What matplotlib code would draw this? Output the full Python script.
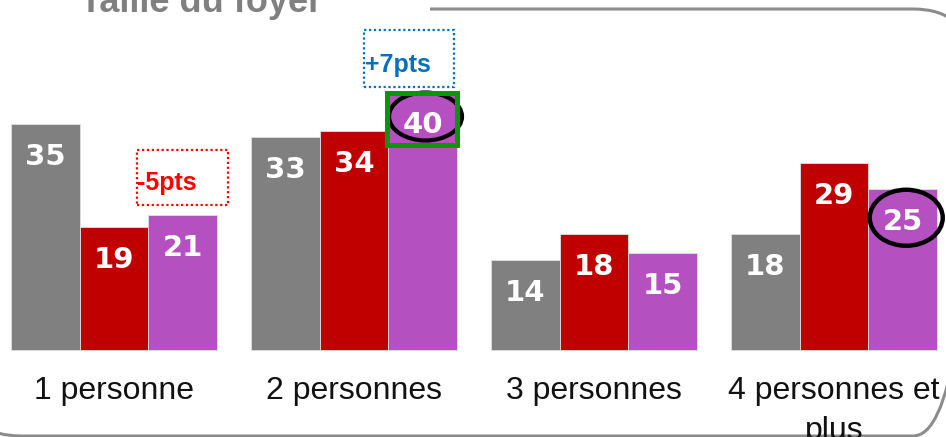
import numpy as np
import matplotlib.pyplot as plt
from matplotlib.patches import FancyBboxPatch, Rectangle, Ellipse

categories = ['1 personne', '2 personnes', '3 personnes', '4 personnes et\nplus']
serie_1 = [35, 33, 14, 18]
serie_2 = [19, 34, 18, 29]
serie_3 = [21, 40, 15, 25]
colors = ['#808080', '#C00000', '#B450C0']

W, H = 946, 437
fig = plt.figure(figsize=(W / 100, H / 100), dpi=100)

# cadre arrondi + titre, en coordonnees pixels
bg = fig.add_axes([0, 0, 1, 1], zorder=0)
bg.set_xlim(0, W)
bg.set_ylim(H, 0)
bg.axis('off')
bg.add_patch(FancyBboxPatch((-36, 9), 1006, 427,
                            boxstyle='round,pad=0,rounding_size=57',
                            fill=False, ec='#8c8c8c', lw=2.2))
bg.add_patch(Rectangle((-10, -10), 440, 40, fc='white', ec='none', zorder=3))
bg.text(201, 12, 'Taille du foyer', ha='center', va='baseline',
        fontsize=26, fontweight='bold', color='#808080',
        family='Liberation Sans', zorder=4)

# graphique
ax = fig.add_axes([0, 0, 1, 1], zorder=1)
ax.set_xlim(-0.475, 3.4667)
ax.set_ylim(-13.49, 54.26)
ax.axis('off')

x = np.arange(len(categories))
w = 0.286
series = [serie_1, serie_2, serie_3]
for k, vals in enumerate(series):
    xs = x + (k - 1) * w
    ax.bar(xs, vals, width=w, color=colors[k], edgecolor='#e0e0e0', lw=0.6)
    for xi, v in zip(xs, vals):
        ax.annotate(str(v), (xi, v), xytext=(0, -29.5), textcoords='offset points',
                    ha='center', va='baseline', color='white', fontsize=21,
                    fontweight='bold', family='DejaVu Sans', zorder=5)

for xi, lab in zip(x, categories):
    ax.text(xi, -4.0, lab, ha='center', va='top', fontsize=23,
            family='Liberation Sans', color='#111111', linespacing=1.45)

# mises en evidence
ax.add_patch(Ellipse((1 + w + 0.012, 40 - 4.7 + 0.9), 73 / 240, 48 / 6.45,
                     fill=False, ec='black', lw=3, zorder=4))
ax.add_patch(Rectangle((1 + w / 2 - 0.005, 40 - 8.2), w + 0.005, 8.0,
                       fill=False, ec='#0A960A', lw=3.6, zorder=6))
ax.add_patch(Ellipse((3 + w + 0.015, 25 - 4.7 + 0.2), 73 / 240, 56 / 6.45,
                     fill=False, ec='black', lw=3.2, zorder=4))

ax.add_patch(Rectangle((1.0417, 40.78), 0.375, 8.82, fill=False,
                       ec='#0070C0', lw=1.6, ls=(0, (1, 1.2)), zorder=4))
ax.text(1.046, 44.2, '+7pts', ha='left', va='center', fontsize=18,
        fontweight='bold', color='#0070C0', family='Liberation Sans')
ax.add_patch(Rectangle((0.096, 22.48), 0.379, 8.52, fill=False,
                       ec='#FF0000', lw=1.6, ls=(0, (1, 1.2)), zorder=4))
ax.text(0.096, 25.9, '-5pts', ha='left', va='center', fontsize=18,
        fontweight='bold', color='#FF0000', family='Liberation Sans')

fig.savefig('out.png', dpi=100)
